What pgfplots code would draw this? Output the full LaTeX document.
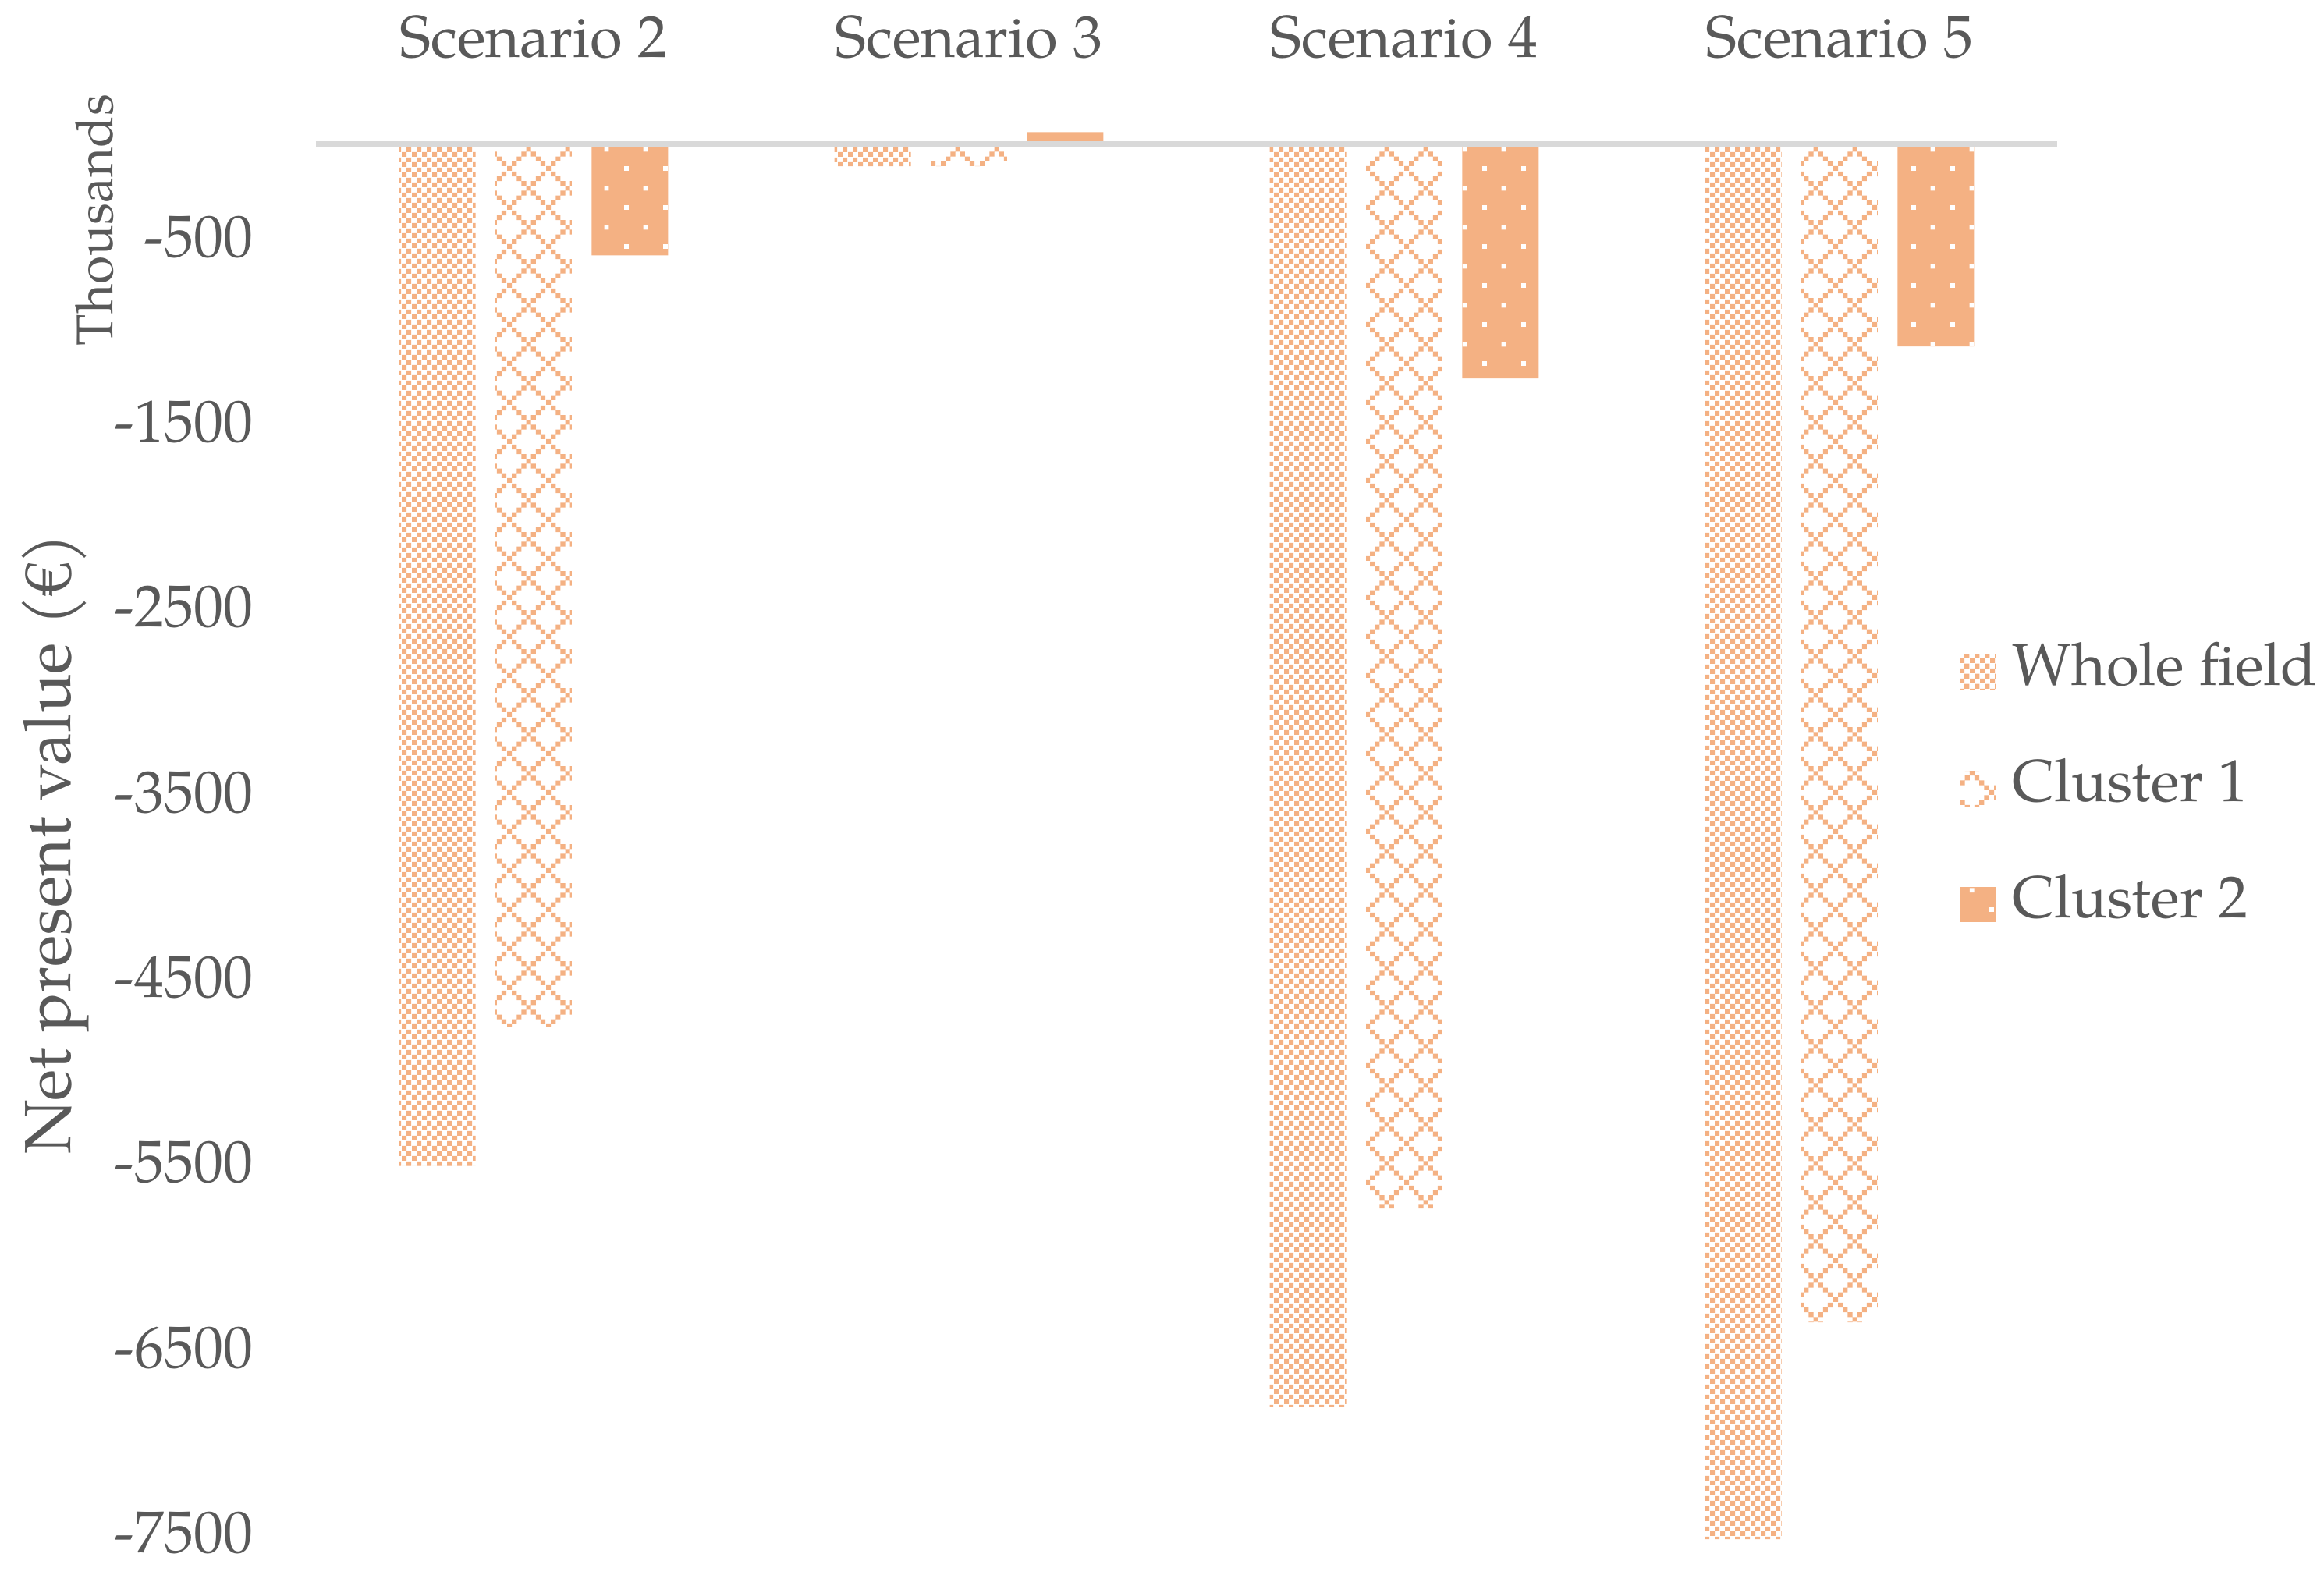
\documentclass[border=0pt]{standalone}
\usepackage{fontspec}
\setmainfont{texgyrepagella}[Extension=.otf, UprightFont=*-regular, BoldFont=*-bold, ItalicFont=*-italic, BoldItalicFont=*-bolditalic]
\usepackage{pgfplots}
\pgfplotsset{compat=1.18}
\usetikzlibrary{patterns}
\definecolor{barc}{HTML}{F4B183}
\definecolor{linegray}{HTML}{D9D9D9}
\definecolor{textgray}{HTML}{595959}

\pgfdeclarepatternformonly{wfcheck}{\pgfqpoint{0pt}{0pt}}{\pgfqpoint{3.14pt}{3.14pt}}{\pgfqpoint{3.14pt}{3.14pt}}{%
  \pgfpathrectangle{\pgfqpoint{0pt}{0pt}}{\pgfqpoint{1.57pt}{1.57pt}}%
  \pgfpathrectangle{\pgfqpoint{1.57pt}{1.57pt}}{\pgfqpoint{1.57pt}{1.57pt}}%
  \pgfusepath{fill}}

\pgfdeclarepatternformonly{conediamond}{\pgfqpoint{0pt}{0pt}}{\pgfqpoint{12.5pt}{12.5pt}}{\pgfqpoint{12.5pt}{12.5pt}}{%
  \pgfpathrectangle{\pgfqpoint{0pt}{0pt}}{\pgfqpoint{1.5625pt}{1.5625pt}}%
  \pgfpathrectangle{\pgfqpoint{1.5625pt}{1.5625pt}}{\pgfqpoint{1.5625pt}{1.5625pt}}%
  \pgfpathrectangle{\pgfqpoint{3.125pt}{3.125pt}}{\pgfqpoint{1.5625pt}{1.5625pt}}%
  \pgfpathrectangle{\pgfqpoint{4.6875pt}{4.6875pt}}{\pgfqpoint{1.5625pt}{1.5625pt}}%
  \pgfpathrectangle{\pgfqpoint{6.25pt}{6.25pt}}{\pgfqpoint{1.5625pt}{1.5625pt}}%
  \pgfpathrectangle{\pgfqpoint{7.8125pt}{7.8125pt}}{\pgfqpoint{1.5625pt}{1.5625pt}}%
  \pgfpathrectangle{\pgfqpoint{9.375pt}{9.375pt}}{\pgfqpoint{1.5625pt}{1.5625pt}}%
  \pgfpathrectangle{\pgfqpoint{10.9375pt}{10.9375pt}}{\pgfqpoint{1.5625pt}{1.5625pt}}%
  \pgfpathrectangle{\pgfqpoint{1.5625pt}{10.9375pt}}{\pgfqpoint{1.5625pt}{1.5625pt}}%
  \pgfpathrectangle{\pgfqpoint{3.125pt}{9.375pt}}{\pgfqpoint{1.5625pt}{1.5625pt}}%
  \pgfpathrectangle{\pgfqpoint{4.6875pt}{7.8125pt}}{\pgfqpoint{1.5625pt}{1.5625pt}}%
  \pgfpathrectangle{\pgfqpoint{7.8125pt}{4.6875pt}}{\pgfqpoint{1.5625pt}{1.5625pt}}%
  \pgfpathrectangle{\pgfqpoint{9.375pt}{3.125pt}}{\pgfqpoint{1.5625pt}{1.5625pt}}%
  \pgfpathrectangle{\pgfqpoint{10.9375pt}{1.5625pt}}{\pgfqpoint{1.5625pt}{1.5625pt}}%
  \pgfusepath{fill}}

\pgfdeclarepatternformonly{ctwodots}{\pgfqpoint{0pt}{0pt}}{\pgfqpoint{12.5pt}{12.5pt}}{\pgfqpoint{12.5pt}{12.5pt}}{%
  \pgfpathrectangle{\pgfqpoint{0pt}{0pt}}{\pgfqpoint{1.5pt}{1.5pt}}%
  \pgfpathrectangle{\pgfqpoint{6.25pt}{6.25pt}}{\pgfqpoint{1.5pt}{1.5pt}}%
  \pgfusepath{fill}}

\pgfplotsset{
  mylegend/.style={legend image code/.code={\path[##1] (0pt,-5.625pt) rectangle (11.25pt,5.625pt);}},
}

\begin{document}
\begin{tikzpicture}
\useasboundingbox (0,0) rectangle (744.75pt,504.75pt);
\begin{axis}[
  at={(101.25pt,9.95pt)}, anchor=south west,
  scale only axis, width=558pt, height=454.43pt,
  xmin=-0.5, xmax=3.5, ymin=-7560, ymax=100,
  axis line style={draw=none}, major tick length=0pt,
  xtick={0,1,2,3}, xticklabels={Scenario 2,Scenario 3,Scenario 4,Scenario 5},
  xticklabel pos=right,
  xticklabel style={anchor=base, yshift=22.1pt, inner sep=0pt},
  ytick={-7500,-6500,-5500,-4500,-3500,-2500,-1500,-500},
  yticklabels={-7500,-6500,-5500,-4500,-3500,-2500,-1500,-500},
  yticklabel style={anchor=east, inner sep=0pt, xshift=-20pt},
  tick label style={font=\fontsize{19}{23}\selectfont, text=textgray},
  extra y ticks={0}, extra y tick labels={},
  extra y tick style={grid=major},
  major grid style={draw=linegray, line width=2pt},
  axis on top,
  clip=false,
  ylabel={Net present value (€)},
  ylabel style={at={(axis description cs:-0.1411,0.4936)}, anchor=base, font=\fontsize{21}{25}\selectfont, text=textgray},
  legend cell align=left,
  legend style={at={(axis description cs:0.9444,0.6361)}, anchor=north west,
    draw=none, fill=none, inner sep=0pt, outer sep=0pt,
    row sep=17.6pt, column sep=5.5pt,
    font=\fontsize{19}{23}\selectfont, text=textgray,
    nodes={inner sep=0pt, text height=14pt, text depth=5.625pt}},
]
\addplot[ybar, bar width=0.1756, bar shift=-0.2213, draw=none, pattern=wfcheck, pattern color=barc, mylegend]
  coordinates {(0,-5518) (1,-118) (2,-6818) (3,-7535)};
\addlegendentry{Whole field}
\addplot[ybar, bar width=0.1756, bar shift=0, draw=none, pattern=conediamond, pattern color=barc, mylegend]
  coordinates {(0,-4769) (1,-118) (2,-5748) (3,-6363)};
\addlegendentry{Cluster 1}
\addplot[ybar, bar width=0.1756, bar shift=0.2213, draw=none, fill=barc, postaction={pattern=ctwodots, pattern color=white}, mylegend]
  coordinates {(0,-599) (1,67) (2,-1264) (3,-1091)};
\addlegendentry{Cluster 2}
\node[rotate=90, anchor=base, font=\fontsize{16.5}{20}\selectfont, text=textgray] at (axis description cs:-0.1169,0.9337) {Thousands};
\end{axis}
\end{tikzpicture}
\end{document}
